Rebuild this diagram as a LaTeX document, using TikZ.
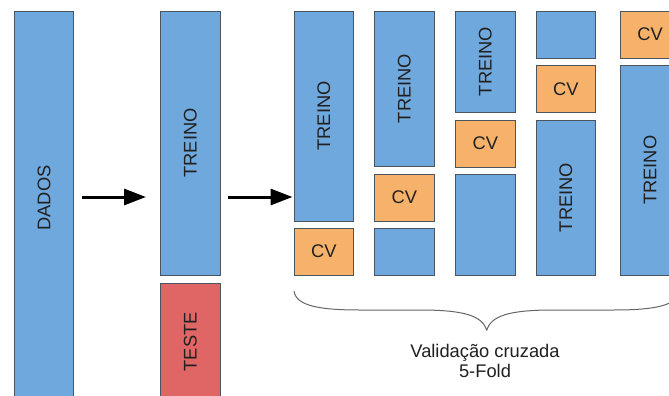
\documentclass[tikz,border=0pt]{standalone}
\usepackage{fontspec}
\setmainfont{Liberation Sans}
\usepackage{graphicx}
\usetikzlibrary{arrows.meta}
\definecolor{blk}{HTML}{6FA8DC}
\definecolor{cvc}{HTML}{F6B26B}
\definecolor{tst}{HTML}{E06666}
\definecolor{edge}{HTML}{4A5560}
\definecolor{ink}{HTML}{202020}
\tikzset{
  part/.style={draw=edge, line width=0.9pt, inner sep=0pt, minimum width=59.7pt,
    text=ink, font=\fontsize{18.3}{20}\selectfont},
  trn/.style={part, fill=blk},
  cvb/.style={part, fill=cvc},
  tsb/.style={part, fill=tst},
  flow/.style={line width=3pt, -{Triangle[length=22pt,width=16pt]}},
}
\newcommand{\vtxt}[1]{\rotatebox{90}{#1}}
\begin{document}
\begin{tikzpicture}[x=1pt,y=-1pt]
\useasboundingbox (0,0) rectangle (669,396);
\clip (0,0) rectangle (669,396);
\fill[white] (0,0) rectangle (669,396);

% full data set and train/test split
\node[trn, minimum height=400pt] (dados) at (44,211) {};
\node[text=ink, font=\fontsize{18.3}{20}\selectfont] (dadoslbl) at (44,198) {\vtxt{DADOS}};
\node[trn, minimum height=264pt] (treino) at (190.2,143) {\vtxt{TREINO}};
\node[tsb, minimum height=116pt] (teste) at (190.2,341.7) {\vtxt{TESTE}};

% arrows between stages
\coordinate (a1s) at (81.7,197);
\coordinate (a1e) at (146,197);
\coordinate (a2s) at (228,197);
\coordinate (a2e) at (292.5,197);
\draw[flow] (a1s) -- (a1e);
\draw[flow] (a2s) -- (a2e);

% fold 1
\node[trn, minimum height=210pt] (f1t) at (323.9,116) {\vtxt{TREINO}};
\node[cvb, minimum height=47pt] (f1c) at (323.9,251.5) {CV};
% fold 2
\node[trn, minimum height=155pt] (f2t) at (404.3,88.5) {\vtxt{TREINO}};
\node[cvb, minimum height=47pt] (f2c) at (404.3,197.5) {CV};
\node[trn, minimum height=47pt] (f2b) at (404.3,251.5) {};
% fold 3
\node[trn, minimum height=101pt] (f3t) at (485.4,61.5) {\vtxt{TREINO}};
\node[cvb, minimum height=47pt] (f3c) at (485.4,143.5) {CV};
\node[trn, minimum height=101pt] (f3b) at (485.4,224.5) {};
% fold 4
\node[trn, minimum height=47pt] (f4b) at (565.9,34.5) {};
\node[cvb, minimum height=47pt] (f4c) at (565.9,89) {CV};
\node[trn, minimum height=155pt] (f4t) at (565.9,197.5) {\vtxt{TREINO}};
% fold 5
\node[cvb, minimum height=47pt] (f5c) at (650,34.5) {CV};
\node[trn, minimum height=209.5pt] (f5t) at (650,170.25) {\vtxt{TREINO}};

% curly brace under the folds
\coordinate (bl) at (294,291);
\coordinate (bt) at (486.7,330);
\coordinate (br) at (679.4,291);
\draw[draw=black!60, line width=1pt]
  (bl) .. controls (296,306) and (320,310) .. (360,310)
  -- (420,310) .. controls (465,310) and (482,316) .. (bt)
  .. controls (491.4,316) and (508.4,310) .. (553.4,310)
  -- (613.4,310) .. controls (653.4,310) and (677.4,306) .. (br);

\node[text=ink, align=center, font=\fontsize{18.3}{19.5}\selectfont] (lbl) at (485,361)
  {Validação cruzada\\5-Fold};
\end{tikzpicture}
\end{document}
